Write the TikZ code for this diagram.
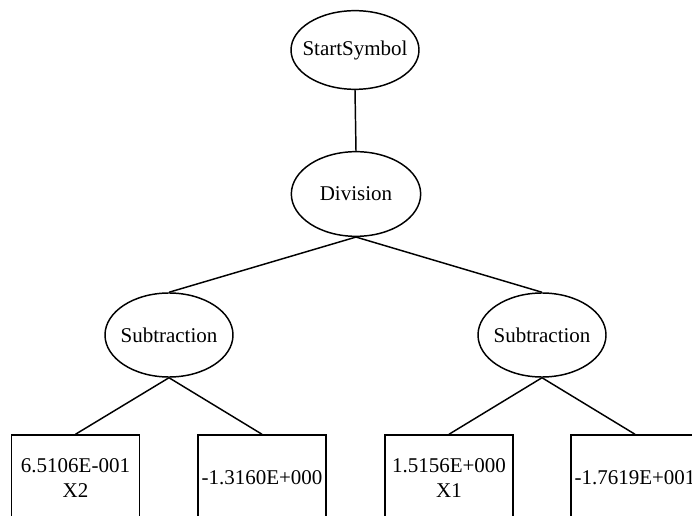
\documentclass[tikz,border=0pt]{standalone}
\usepackage{fontspec}
\setmainfont{Liberation Serif}
\usetikzlibrary{shapes.geometric}
\begin{document}
\begin{tikzpicture}[x=0.75pt,y=-0.75pt,
  every node/.style={font=\fontsize{15.75}{18.75}\selectfont},
  oval/.style={draw, line width=1.1pt, ellipse, inner sep=0pt, minimum width=96pt, minimum height=62pt},
  leaf/.style={draw, line width=1.1pt, rectangle, inner sep=0pt, minimum width=96pt, minimum height=64.5pt, align=center},
  edge/.style={line width=1.1pt}]
\useasboundingbox (0,0) rectangle (692,516);
\fill[white] (0,0) rectangle (692,516);
\clip (0,0) rectangle (692,516);
\node[oval, minimum height=59pt] (start) at (355,50) {\makebox[0pt]{StartSymbol}};
\node[oval, minimum width=97pt, minimum height=63.5pt] (div) at (356,194) {\makebox[0pt]{Division}};
\node[oval, minimum height=63pt] (subL) at (169,335) {\makebox[0pt]{Subtraction}};
\node[oval, minimum height=63pt] (subR) at (542,335) {\makebox[0pt]{Subtraction}};
\node[leaf] (b1) at (75.5,478) {6.5106E-001\\X2};
\node[leaf] (b2) at (262,478) {-1.3160E+000};
\node[leaf] (b3) at (449,478) {1.5156E+000\\X1};
\node[leaf] (b4) at (635,478) {-1.7619E+001};
\draw[edge] (start.south) -- (div.north);
\draw[edge] (div.south) -- (subL.north);
\draw[edge] (div.south) -- (subR.north);
\draw[edge] (subL.south) -- (b1.north);
\draw[edge] (subL.south) -- (b2.north);
\draw[edge] (subR.south) -- (b3.north);
\draw[edge] (subR.south) -- (b4.north);
\end{tikzpicture}
\end{document}
